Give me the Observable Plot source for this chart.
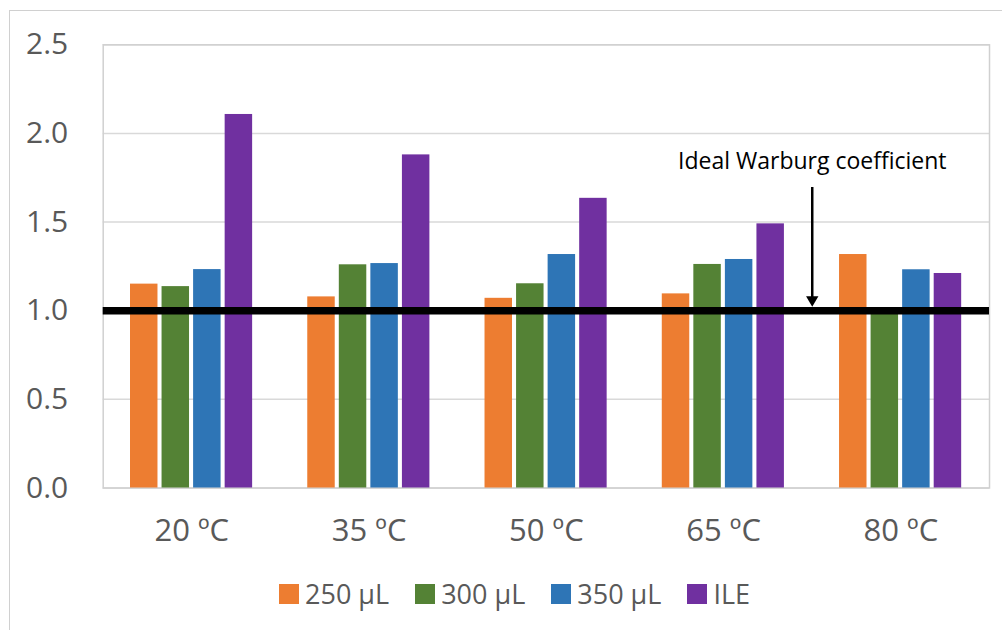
<!DOCTYPE html>
<html>
<head>
<meta charset="utf-8">
<script src="https://cdn.jsdelivr.net/npm/d3@7"></script>
<script src="https://cdn.jsdelivr.net/npm/@observablehq/plot@0.6"></script>
<style>
  html, body { margin: 0; padding: 0; background: #fff; }
  #wrap { position: relative; width: 1002px; height: 630px; overflow: hidden; font-family: "Open Sans", Lato, sans-serif; }
  #outline { position: absolute; left: 9px; top: 10px; width: 1100px; height: 700px;
             border-top: 1.5px solid #d0d0d0; border-left: 1.5px solid #d0d0d0; }
  #chart { position: absolute; left: 0; top: 0; }
  #legend { position: absolute; top: 575px; left: 279px; display: flex; align-items: center;
            font-size: 27px; line-height: 38px; color: #595959; white-space: nowrap; }
  #legend .item { display: flex; align-items: center; margin-right: 26px; }
  #legend .sw { width: 20px; height: 20px; margin-right: 6px; }
</style>
</head>
<body>
<div id="wrap">
  <div id="outline"></div>
  <div id="chart"></div>
  <div id="legend"></div>
</div>
<script>
// Temperature groups and the four measured series (Warburg coefficient)
const temps = ["20 ºC", "35 ºC", "50 ºC", "65 ºC", "80 ºC"];
const series = ["250 µL", "300 µL", "350 µL", "ILE"];
const colors = ["#ED7D31", "#548235", "#2E75B6", "#7030A0"];
const v250 = [1.150, 1.078, 1.070, 1.095, 1.317];
const v300 = [1.136, 1.259, 1.152, 1.261, 1.000];
const v350 = [1.232, 1.266, 1.317, 1.289, 1.231];
const vILE = [2.107, 1.879, 1.634, 1.490, 1.210];
const yTicks = [0, 0.5, 1.0, 1.5, 2.0, 2.5];
const idealValue = 1.0;
const annotation = "Ideal Warburg coefficient";

// Layout of the bars inside each group (fractions of one group slot)
const barStart = 0.154, barStep = 0.178, barWidth = 0.155;

const values = [v250, v300, v350, vILE];
const bars = [];
series.forEach((s, si) => {
  temps.forEach((t, gi) => {
    const x1 = gi + barStart + si * barStep;
    bars.push({temp: t, series: s, value: values[si][gi], x1, x2: x1 + barWidth});
  });
});

const W = 1002, H = 560;
const chart = Plot.plot({
  width: W,
  height: H,
  marginLeft: 102.7,
  marginRight: 13,
  marginTop: 44.3,
  marginBottom: H - 487.5,
  style: {fontFamily: "'Open Sans', Lato, sans-serif", background: "transparent"},
  x: {domain: [0, temps.length]},
  y: {domain: [0, 2.5]},
  color: {domain: series, range: colors},
  marks: [
    Plot.gridY(yTicks, {stroke: "#d9d9d9", strokeOpacity: 1, strokeWidth: 1.5}),
    Plot.frame({stroke: "#d0d0d0", strokeWidth: 1.5}),
    Plot.axisY(yTicks, {
      tickSize: 0, tickPadding: 35, fontSize: 30, fill: "#595959",
      tickFormat: d3.format(".1f"), label: null
    }),
    Plot.axisX(temps.map((t, i) => i + 0.5), {
      tickSize: 0, tickPadding: 31, fontSize: 31, fill: "#595959",
      tickFormat: d => temps[Math.floor(d)], label: null
    }),
    Plot.rectY(bars, {x1: "x1", x2: "x2", y: "value", fill: "series"}),
    Plot.ruleY([idealValue], {stroke: "black", strokeWidth: 7.5}),
    // Arrow pointing at the ideal line, placed on the 65 ºC / 80 ºC boundary
    Plot.ruleX([{x: 4, y1: 1.695, y2: idealValue + 0.045}], {x: "x", y1: "y1", y2: "y2", stroke: "black", strokeWidth: 2.5}),
    Plot.dot([{x: 4, y: idealValue}], {x: "x", y: "y", symbol: "triangle", rotate: 180, r: 4.6, fill: "black", stroke: "none", dy: -11}),
    Plot.text([{x: 4, y: 1.84, label: annotation}], {x: "x", y: "y", text: "label", fontSize: 23, fill: "black"})
  ]
});
document.getElementById("chart").appendChild(chart);

// Legend below the plot
const legend = d3.select("#legend");
series.forEach((s, i) => {
  const item = legend.append("div").attr("class", "item");
  item.append("div").attr("class", "sw").style("background", colors[i]);
  item.append("span").text(s);
});
</script>
</body>
</html>
